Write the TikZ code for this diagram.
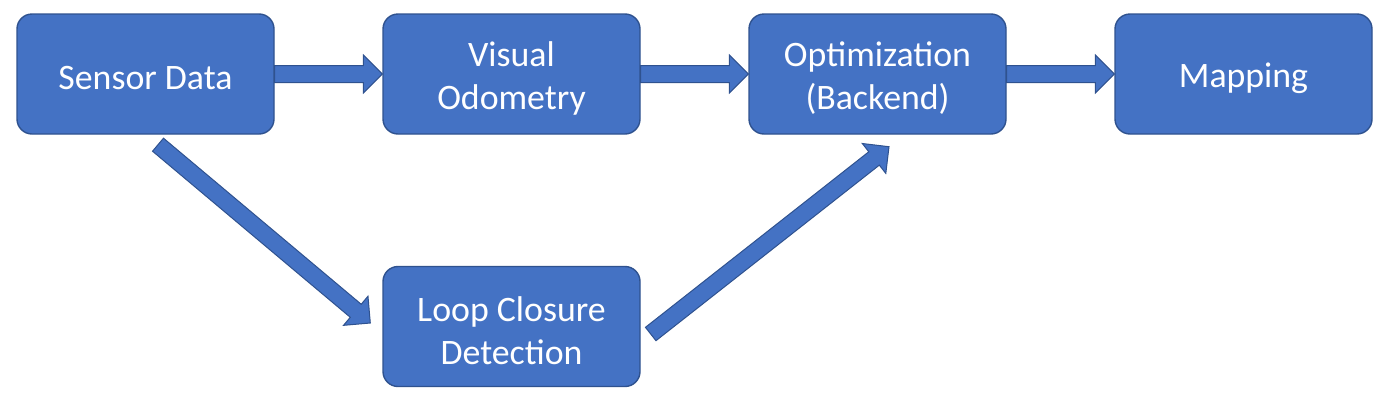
\documentclass[tikz,border=0pt]{standalone}
\usepackage{fontspec}
\setmainfont{Carlito}
\usetikzlibrary{calc}

\definecolor{boxblue}{HTML}{4472C4}
\definecolor{edgeblue}{HTML}{2F528F}

\begin{document}
\begin{tikzpicture}[x=0.5pt, y=-0.5pt, font=\fontsize{17.9}{21.5}\selectfont]
				\tikzstyle{block} = [draw=edgeblue, fill=boxblue, line width=0.7pt, rounded corners=7.5pt, minimum width=128.5pt, minimum height=60pt, inner sep=0pt]
				\tikzstyle{words} = [text=white, align=center, yshift=-2pt]
				\tikzstyle{fat} = [draw=edgeblue, fill=boxblue, line width=0.5pt, line join=miter,
					to path={let \p1 = ($(\tikztotarget)-(\tikztostart)$), \n1 = {atan2(\y1,\x1)}, \n2 = {veclen(\x1,\y1)}, \n3 = {\n2-9.5pt} in
					(\tikztostart) ++(\n1+90:4.25pt) -- ++(\n1:\n3) -- ++(\n1+90:5.25pt) -- ++(\n1-45:13.435pt)
					-- ++(\n1-135:13.435pt) -- ++(\n1+90:5.25pt) -- ++(\n1+180:\n3) -- cycle}]
				
				\useasboundingbox (0, 0) rectangle (1385, 402);
				
				\node[block, label={[words]center:Sensor Data}] 	at (145.5, 74) 		(sensor) 	{};
				\node[block, label={[words]center:{Visual\\Odometry}}] 	at (511.5, 74)		(visual) 	{};
				\node[block, label={[words]center:{Optimization\\(Backend)}}] 	at (877.5, 74) 		(optim) 	{};
				\node[block, label={[words]center:Mapping}] 	at (1243.5, 74) 	(mapping) 	{};
				\node[block, label={[words]center:{Loop Closure\\Detection}}] 	at (511.5, 326.5) 	(loop) 		{};
				
				\coordinate (s1) at ($(sensor.south)+(12.5, 10)$);
				\coordinate (s2) at ($(loop.west)+(-12, -3.5)$);
				\coordinate (s3) at ($(loop.east)+(10, 7.5)$);
				\coordinate (s4) at ($(optim.south)+(11.5, 12)$);
				
				\path
				(sensor.east)	edge[fat]	(visual.west)
				(visual.east)	edge[fat]	(optim.west)
				(optim.east)	edge[fat]	(mapping.west)
				(s1)	edge[fat]	(s2)
				(s3)	edge[fat]	(s4);
\end{tikzpicture}
\end{document}
